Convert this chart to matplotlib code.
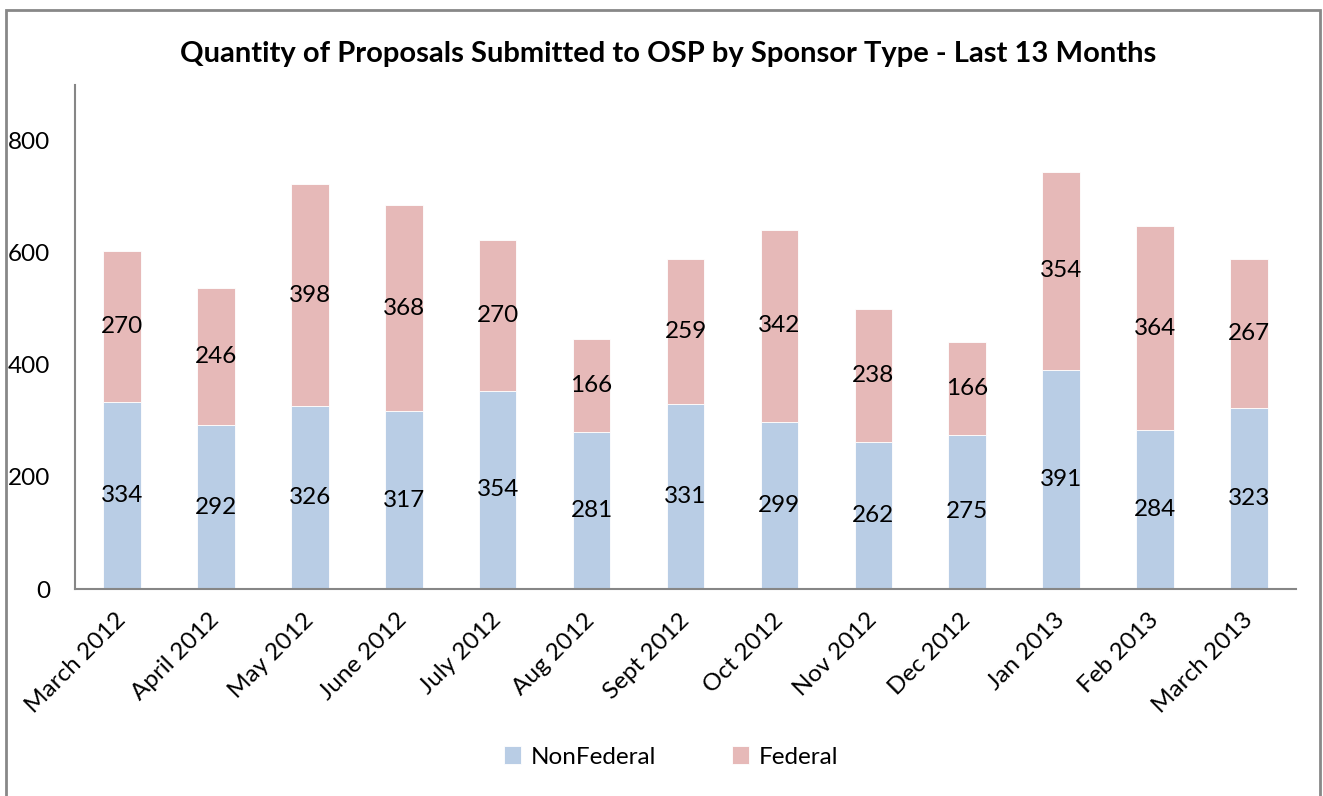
import matplotlib
matplotlib.use("Agg")
import matplotlib.pyplot as plt
from matplotlib.patches import Rectangle
import numpy as np

months = ["March 2012", "April 2012", "May 2012", "June 2012", "July 2012", "Aug 2012",
          "Sept 2012", "Oct 2012", "Nov 2012", "Dec 2012", "Jan 2013", "Feb 2013", "March 2013"]
nonfederal = [334, 292, 326, 317, 354, 281, 331, 299, 262, 275, 391, 284, 323]
federal = [270, 246, 398, 368, 270, 166, 259, 342, 238, 166, 354, 364, 267]
yticks = [0, 200, 400, 600, 800]

plt.rcParams['font.family'] = ['Lato', 'DejaVu Sans']

W, H = 1323, 796
FS = 17.5
fig = plt.figure(figsize=(W / 100, H / 100), dpi=100)
ax = fig.add_axes([75 / W, 1 - 589 / H, (1296 - 75) / W, (589 - 85) / H])

x = np.arange(len(months))
c_nf = '#B9CDE5'
c_f = '#E6B9B8'
b1 = ax.bar(x, nonfederal, width=0.4, color=c_nf, edgecolor='white', linewidth=0.6, label='NonFederal')
b2 = ax.bar(x, federal, width=0.4, bottom=nonfederal, color=c_f, edgecolor='white', linewidth=0.6, label='Federal')

for i in range(len(months)):
    ax.text(x[i], nonfederal[i] / 2, str(nonfederal[i]), ha='center', va='center', fontsize=FS, color='black')
    ax.text(x[i], nonfederal[i] + federal[i] / 2, str(federal[i]), ha='center', va='center', fontsize=FS, color='black')

ax.set_xlim(-0.5, len(months) - 0.5)
ax.set_ylim(0, 900)
ax.set_yticks(yticks)
ax.set_yticklabels([str(v) for v in yticks], fontsize=FS)
ax.tick_params(axis='y', length=0, pad=18)
ax.set_xticks(x)
ax.set_xticklabels(months, rotation=45, ha='right', va='center', rotation_mode='anchor', fontsize=FS)
ax.tick_params(axis='x', length=0, pad=20)

for s in ['top', 'right']:
    ax.spines[s].set_visible(False)
for s in ['left', 'bottom']:
    ax.spines[s].set_color('#868686')
    ax.spines[s].set_linewidth(1.5)

fig.text(668 / W, 1 - 54 / H, "Quantity of Proposals Submitted to OSP by Sponsor Type - Last 13 Months",
         ha='center', va='center', fontsize=21, fontweight='bold')

leg = fig.legend(handles=[b1, b2], labels=['NonFederal', 'Federal'], loc='center',
                 bbox_to_anchor=(671 / W, 1 - 757 / H), ncol=2, frameon=False, fontsize=FS,
                 handlelength=0.7, handleheight=0.7, handletextpad=0.4, columnspacing=3.1)

fig.patches.append(Rectangle((6 / W, -0.02), (1320 - 6) / W, 1 - 10 / H + 0.02, transform=fig.transFigure,
                             fill=False, edgecolor='#888888', linewidth=2))

fig.savefig('out.png', dpi=100, facecolor='white')
